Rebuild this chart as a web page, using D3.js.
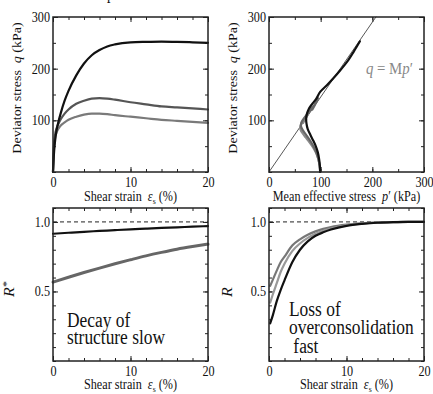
<!DOCTYPE html>
<html>
<head>
<meta charset="utf-8">
<script src="https://cdn.jsdelivr.net/npm/d3@7"></script>
<style>
  body { margin: 0; background: #fff; }
  svg { display: block; }
  svg text { font-family: "Liberation Serif", "DejaVu Serif", serif !important; fill: #111; }
</style>
</head>
<body>
<svg id="chart" width="433" height="394" font-family="Liberation Serif, DejaVu Serif, serif"></svg>
<script>
// ---- data ----
// top left: q vs shear strain
var strainQ = [0, 0.1, 0.25, 0.5, 0.75, 1, 1.5, 2, 3, 4, 5, 6, 7, 8, 10, 12, 14, 16, 18, 20];
var qBlack  = [0, 30, 58, 84, 100, 114, 138, 157, 187, 210, 226, 236, 243, 247, 251, 252, 252.5, 252, 251, 250];
var qDark   = [0, 45, 70, 86, 95, 102, 113, 121, 132, 138, 142, 143, 142, 140, 135, 131, 127, 125, 123, 121];
var qLight  = [0, 42, 64, 78, 85, 90, 96, 101, 107, 111, 113, 113, 112, 110, 107, 104, 101, 99, 97, 95];

// top right: stress paths (p', q)
var pBlackPath = [99, 98.5, 97, 94.5, 90.5, 85.5, 80, 75, 72.5, 72, 73.5, 77, 83, 91, 99, 112, 125, 138, 151, 164, 176];
var qBlackPath = [0, 12, 25, 38, 50, 61, 72, 83, 94, 104, 113, 122, 131, 141, 155, 168, 182, 197, 213, 233, 253];
var pDarkPath  = [99, 98, 95.5, 91.5, 86, 79.5, 72.5, 66, 62, 62.5, 67, 73, 80, 88, 95, 90, 84];
var qDarkPath  = [0, 12, 25, 38, 50, 61, 71, 80, 88, 95, 103, 111, 120, 130, 143, 132, 121];
var pLightPath = [99, 98, 95.5, 91, 85, 78, 71, 65, 61, 60.5, 64, 70, 76, 71, 66];
var qLightPath = [0, 12, 25, 37, 48, 58, 67, 75, 82, 88, 96, 105, 113, 104, 95];
var slopeM = 1.45;
var cslP = [0, 300 / slopeM];

// bottom left: R* vs shear strain
var strainRs   = [0, 2, 4, 6, 8, 10, 12, 14, 16, 18, 20];
var rStarBlack = [0.915, 0.922, 0.929, 0.935, 0.941, 0.947, 0.952, 0.957, 0.961, 0.966, 0.970];
var rStarGray  = [0.567, 0.602, 0.636, 0.668, 0.699, 0.728, 0.756, 0.781, 0.804, 0.823, 0.840];

// bottom right: R vs shear strain
var strainR = [0.15, 0.5, 1, 1.5, 2, 3, 4, 5, 6, 7, 8, 10, 12, 14, 16, 18, 20];
var rBlack  = [0.27, 0.33, 0.43, 0.51, 0.58, 0.71, 0.80, 0.86, 0.90, 0.925, 0.945, 0.972, 0.986, 0.994, 0.998, 1, 1];
var rMid    = [0.42, 0.48, 0.56, 0.64, 0.70, 0.79, 0.845, 0.885, 0.915, 0.937, 0.953, 0.976, 0.988, 0.995, 0.998, 1, 1];
var rLight  = [0.54, 0.585, 0.65, 0.71, 0.75, 0.83, 0.875, 0.908, 0.932, 0.95, 0.963, 0.98, 0.99, 0.996, 0.999, 1, 1];

// ticks
var strainTicks = d3.range(0, 20.01, 2), strainLabels = [0, 10, 20];
var qTicks = d3.range(0, 300.1, 50), qLabels = [100, 200, 300];
var pTicks = d3.range(0, 300.1, 50), pLabels = [0, 100, 200, 300];
var rTicks = d3.range(0, 1.101, 0.1), rLabels = [0.5, 1.0];

var svg = d3.select("#chart");
var SX = 0.87; // the figure is squeezed horizontally
var FONT = "Liberation Serif, DejaVu Serif, serif";

function panel(left, top, w, h, x, y, xt, xl, yt, yl, yfmt) {
  var g = svg.append("g").attr("transform", "translate(" + left + "," + top + ")");
  var sides = [
    [d3.axisBottom, x, xt, xl, "translate(0," + h + ")"],
    [d3.axisTop, x, xt, xl, null],
    [d3.axisLeft, y, yt, yl, null],
    [d3.axisRight, y, yt, yl, "translate(" + w + ",0)"]
  ];
  sides.forEach(function (s) {
    [[s[2], 3], [s[3], 5]].forEach(function (t) {
      g.append("g").attr("transform", s[4]).attr("color", "#222")
        .call(s[0](s[1]).tickValues(t[0]).tickSize(-t[1]).tickFormat(""))
        .call(function (a) { a.select(".domain").remove(); a.selectAll("line").attr("stroke-width", 1); });
    });
  });
  g.append("g").attr("transform", "translate(0," + h + ")")
    .call(d3.axisBottom(x).tickValues(xl).tickSize(0).tickPadding(5))
    .call(function (a) { a.select(".domain").remove(); a.attr("font-family", FONT); })
    .selectAll("text").attr("font-size", 14).attr("fill", "#111").attr("transform", "scale(" + SX + ",1)");
  g.append("g")
    .call(d3.axisLeft(y).tickValues(yl).tickSize(0).tickPadding(3.5).tickFormat(yfmt))
    .call(function (a) { a.select(".domain").remove(); a.attr("font-family", FONT); })
    .selectAll("text").attr("font-size", 14).attr("fill", "#111").attr("transform", "scale(" + SX + ",1)");
  return g;
}

function border(g, w, h) {
  g.append("rect").attr("width", w).attr("height", h)
    .attr("fill", "none").attr("stroke", "#222").attr("stroke-width", 1.5);
}

function line(g, xs, ys, x, y, color, width, curve) {
  g.append("path").datum(d3.zip(xs, ys))
    .attr("fill", "none").attr("stroke", color).attr("stroke-width", width)
    .attr("stroke-linejoin", "round").attr("stroke-linecap", "round")
    .attr("d", d3.line().x(function (d) { return x(d[0]); }).y(function (d) { return y(d[1]); }).curve(curve));
}

function text(x, y, size, rot) {
  var tr = "translate(" + x + "," + y + ")" + (rot ? " rotate(-90) scale(1," + SX + ")" : " scale(" + SX + ",1)");
  return svg.append("text").attr("transform", tr).attr("font-size", size).attr("font-family", FONT);
}

function strainTitle(cx, y) {
  var t = text(cx, y, 14).attr("text-anchor", "middle");
  t.append("tspan").text("Shear strain\u00a0\u00a0");
  t.append("tspan").attr("font-style", "italic").text("\u03b5");
  t.append("tspan").attr("font-size", 9).attr("dy", 3).text("s");
  t.append("tspan").attr("dy", -3).text(" (%)");
}

function qTitle(x, cy) {
  var t = text(x, cy, 14, true).attr("text-anchor", "middle");
  t.append("tspan").text("Deviator stress\u00a0\u00a0");
  t.append("tspan").attr("font-style", "italic").text("q");
  t.append("tspan").text(" (kPa)");
}

var W = 155, Ht = 155, Hb = 153;

// ---------- top left ----------
var x1 = d3.scaleLinear().domain([0, 20]).range([0, W]);
var y1 = d3.scaleLinear().domain([0, 300]).range([Ht, 0]);
var g1 = panel(53, 17, W, Ht, x1, y1, strainTicks, strainLabels, qTicks, qLabels, d3.format("d"));
line(g1, strainQ, qLight, x1, y1, "#7a7a7a", 2.2, d3.curveMonotoneX);
line(g1, strainQ, qDark, x1, y1, "#555", 2.2, d3.curveMonotoneX);
line(g1, strainQ, qBlack, x1, y1, "#111", 2.2, d3.curveMonotoneX);
border(g1, W, Ht);
qTitle(21, 88);
strainTitle(130.5, 201);

// ---------- top right ----------
var x2 = d3.scaleLinear().domain([0, 300]).range([0, W]);
var y2 = d3.scaleLinear().domain([0, 300]).range([Ht, 0]);
var g2 = panel(269, 17, W, Ht, x2, y2, pTicks, pLabels, qTicks, qLabels, d3.format("d"));
line(g2, cslP, cslP.map(function (p) { return slopeM * p; }), x2, y2, "#444", 0.9, d3.curveLinear);
line(g2, pLightPath, qLightPath, x2, y2, "#8a8a8a", 2.2, d3.curveCatmullRom);
line(g2, pDarkPath, qDarkPath, x2, y2, "#666", 2.2, d3.curveCatmullRom);
line(g2, pBlackPath, qBlackPath, x2, y2, "#111", 2.2, d3.curveCatmullRom);
border(g2, W, Ht);
qTitle(237, 88);
var tm = text(346.5, 201, 14).attr("text-anchor", "middle");
tm.append("tspan").text("Mean effective stress\u00a0\u00a0");
tm.append("tspan").attr("font-style", "italic").text("p");
tm.append("tspan").text("\u2032 (kPa)");
var eq = text(366, 74, 17).style("fill", "#888");
eq.append("tspan").attr("font-style", "italic").style("fill", "#888").text("q");
eq.append("tspan").style("fill", "#888").text(" = M");
eq.append("tspan").attr("font-style", "italic").style("fill", "#888").text("p");
eq.append("tspan").style("fill", "#888").text("\u2032");

// ---------- bottom left ----------
var x3 = d3.scaleLinear().domain([0, 20]).range([0, W]);
var y3 = d3.scaleLinear().domain([0, 1.1]).range([Hb, 0]);
var g3 = panel(53, 208, W, Hb, x3, y3, strainTicks, strainLabels, rTicks, rLabels, d3.format(".1f"));
g3.append("line").attr("x1", 0).attr("x2", W).attr("y1", y3(1)).attr("y2", y3(1))
  .attr("stroke", "#222").attr("stroke-width", 1).attr("stroke-dasharray", "4,3");
line(g3, strainRs, rStarGray, x3, y3, "#666", 3, d3.curveMonotoneX);
line(g3, strainRs, rStarBlack, x3, y3, "#111", 2.2, d3.curveMonotoneX);
border(g3, W, Hb);
var rs = text(14, 289, 16, true).attr("text-anchor", "middle");
rs.append("tspan").attr("font-style", "italic").text("R");
rs.append("tspan").attr("font-size", 12).attr("dy", -5).text("*");
strainTitle(130.5, 389);
text(67, 326.5, 20).text("Decay of");
text(67, 344, 20).text("structure slow");

// ---------- bottom right ----------
var x4 = d3.scaleLinear().domain([0, 20]).range([0, W]);
var y4 = d3.scaleLinear().domain([0, 1.1]).range([Hb, 0]);
var g4 = panel(269, 208, W, Hb, x4, y4, strainTicks, strainLabels, rTicks, rLabels, d3.format(".1f"));
g4.append("line").attr("x1", 0).attr("x2", W).attr("y1", y4(1)).attr("y2", y4(1))
  .attr("stroke", "#222").attr("stroke-width", 1).attr("stroke-dasharray", "4,3");
line(g4, strainR, rLight, x4, y4, "#777", 2.2, d3.curveMonotoneX);
line(g4, strainR, rMid, x4, y4, "#999", 2.2, d3.curveMonotoneX);
line(g4, strainR, rBlack, x4, y4, "#111", 2.2, d3.curveMonotoneX);
border(g4, W, Hb);
text(232, 292, 16, true).attr("text-anchor", "middle").attr("font-style", "italic").text("R");
strainTitle(346.5, 389);
text(289, 315.5, 20).text("Loss of");
text(289, 334, 20).text("overconsolidation");
text(289, 352.5, 20).text("\u00a0fast");

// cut-off title remnant at the very top
text(107, -1, 16).text("p");
</script>
</body>
</html>
